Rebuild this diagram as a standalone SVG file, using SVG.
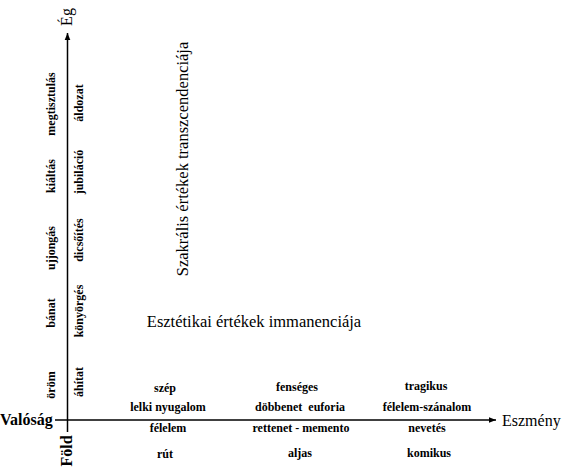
<svg xmlns="http://www.w3.org/2000/svg" width="572" height="470" viewBox="0 0 572 470">
<defs>
<style>
text{font-family:'Liberation Serif','DejaVu Serif',serif;fill:#000}
.lbl{font-weight:bold;font-size:12px;text-anchor:middle}
.big{font-size:16.5px;text-anchor:middle}
.axl{font-size:16px}
.ax{stroke:#000;stroke-width:1.5;fill:none}
</style>
<marker id="arr" viewBox="0 0 10 10" refX="10" refY="5" markerWidth="7" markerHeight="7" markerUnits="userSpaceOnUse" orient="auto">
<path d="M0,1 L10,5 L0,9 Z" fill="#000"/>
</marker>
</defs>
<rect width="572" height="470" fill="#fff"/>
<g id="connectors">
<line class="ax" x1="67.5" y1="432" x2="67.5" y2="33" marker-end="url(#arr)"/>
<line class="ax" x1="55" y1="420" x2="496" y2="420" marker-end="url(#arr)"/>
</g>
<g id="axis-labels" font-family="Liberation Serif">
<text class="axl" text-anchor="middle" transform="translate(72,17) rotate(-90)">Ég</text>
<text class="axl" font-weight="bold" text-anchor="middle" transform="translate(72,451) rotate(-90)">Föld</text>
<text class="axl" font-weight="bold" x="0" y="425">Valóság</text>
<text class="axl" font-size="17" x="502" y="426">Eszmény</text>
</g>
<g id="col1">
<text class="lbl" transform="translate(55,104) rotate(-90)">megtisztulás</text>
<text class="lbl" transform="translate(55,176) rotate(-90)">kiáltás</text>
<text class="lbl" transform="translate(55,248) rotate(-90)">ujjongás</text>
<text class="lbl" transform="translate(55,313) rotate(-90)">bánat</text>
<text class="lbl" transform="translate(55,385) rotate(-90)">öröm</text>
</g>
<g id="col2">
<text class="lbl" transform="translate(83,103) rotate(-90)">áldozat</text>
<text class="lbl" transform="translate(83,172) rotate(-90)">jubiláció</text>
<text class="lbl" transform="translate(83,240) rotate(-90)">dicsőítés</text>
<text class="lbl" transform="translate(83,311) rotate(-90)">könyörgés</text>
<text class="lbl" transform="translate(83,382) rotate(-90)">áhítat</text>
</g>
<g id="titles">
<text class="big" transform="translate(188,159) rotate(-90)">Szakrális értékek transzcendenciája</text>
<text class="big" x="254" y="327">Esztétikai értékek immanenciája</text>
</g>
<g id="row-col-a">
<text class="lbl" x="165" y="392">szép</text>
<text class="lbl" x="168" y="411">lelki nyugalom</text>
<text class="lbl" x="168" y="432">félelem</text>
<text class="lbl" x="165" y="458">rút</text>
</g>
<g id="row-col-b">
<text class="lbl" x="297" y="391">fenséges</text>
<text class="lbl" x="300" y="411" xml:space="preserve">döbbenet  euforia</text>
<text class="lbl" x="301" y="432">rettenet - memento</text>
<text class="lbl" x="300" y="457">aljas</text>
</g>
<g id="row-col-c">
<text class="lbl" x="426" y="390">tragikus</text>
<text class="lbl" x="427" y="411">félelem-szánalom</text>
<text class="lbl" x="427" y="432">nevetés</text>
<text class="lbl" x="429" y="457">komikus</text>
</g>
</svg>
